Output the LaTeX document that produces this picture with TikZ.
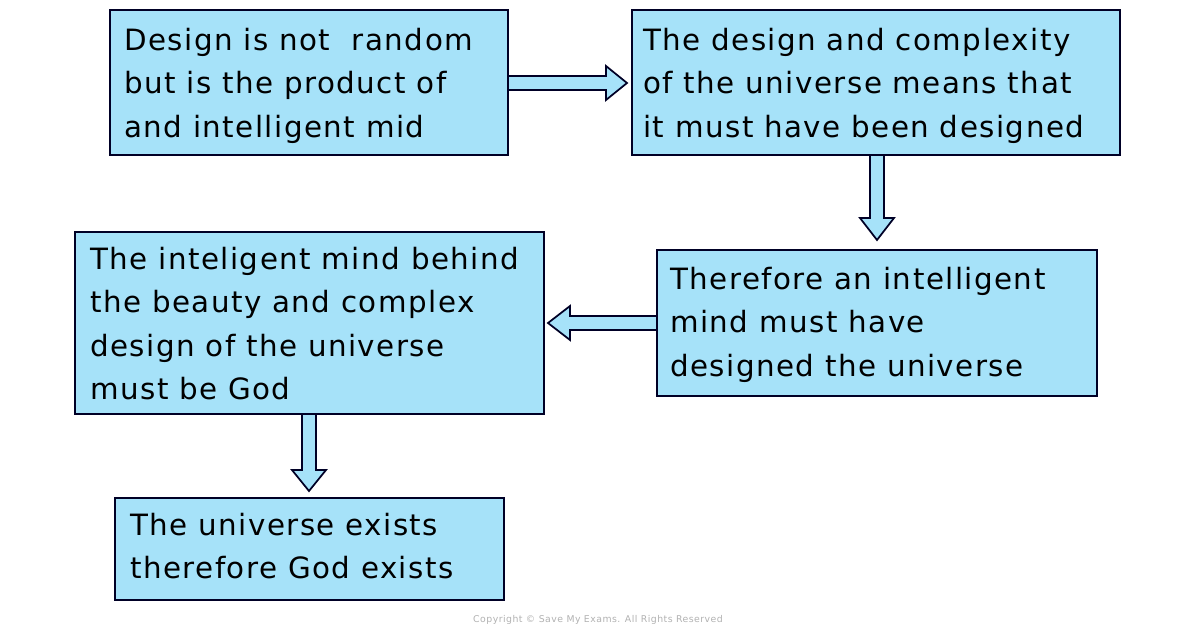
\documentclass[tikz,border=0pt]{standalone}
\usepackage{fontspec}
\setmainfont{DejaVu Sans}[LetterSpace=5]
\begin{document}
\begin{tikzpicture}[x=0.75pt,y=-0.75pt,
  box/.style={draw=black!85!blue,line width=1.3pt,fill=cyan!35!white},
  txt/.style={anchor=north west,align=left,inner sep=0pt,font=\fontsize{22}{32.5}\selectfont},
  arr/.style={draw=black!85!blue,line width=1.3pt,fill=cyan!35!white,line join=miter}]
\useasboundingbox (0,0) rectangle (1196,628);
\fill[white] (0,0) rectangle (1196,628);
\draw[box] (110,10) rectangle (508,155) coordinate (b1);
\draw[box] (632,10) rectangle (1120,155);
\draw[box] (657,250) rectangle (1097,396);
\draw[box] (75,232) rectangle (544,414);
\draw[box] (115,498) rectangle (504,600);
\node[txt] (t1) at (124,28) {Design is not\ \ random\\but is the product of\\and intelligent mid};
\node[txt] (t2) at (643,28) {The design and complexity\\of the universe means that\\it must have been designed};
\node[txt] (t3) at (670,267) {Therefore an intelligent\\mind must have\\designed the universe};
\node[txt] (t4) at (90,247) {The inteligent mind behind\\the beauty and complex\\design of the universe\\must be God};
\node[txt] (t5) at (130,513) {The universe exists\\therefore God exists};
% arrows
\draw[arr] (508,76) -- (606,76) -- (606,66) -- (627,83) -- (606,100) -- (606,90) -- (508,90) -- cycle;
\draw[arr] (870,155) -- (870,218) -- (860,218) -- (877,240) -- (894,218) -- (884,218) -- (884,155) -- cycle;
\draw[arr] (657,316) -- (570,316) -- (570,306) -- (548,323) -- (570,340) -- (570,330) -- (657,330) -- cycle;
\draw[arr] (302,414) -- (302,470) -- (292,470) -- (309,491) -- (326,470) -- (316,470) -- (316,414) -- cycle;
\node[text=black!30,font=\fontsize{7}{8}\selectfont] (c) at (598,620) {Copyright © Save My Exams. All Rights Reserved};
\end{tikzpicture}
\end{document}
